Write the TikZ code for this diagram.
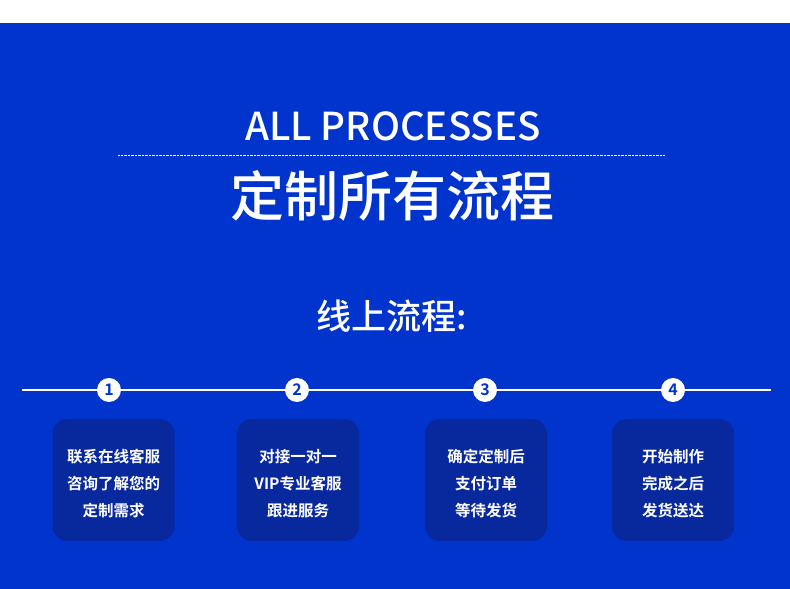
\documentclass[tikz,border=0pt]{standalone}
\usepackage{fontspec}
\setmainfont{Noto Sans CJK SC}[BoldFont={Noto Sans CJK SC Bold}]
\newfontfamily\medfont{Noto Sans CJK SC Medium}
\usetikzlibrary{positioning}
\definecolor{bgblue}{RGB}{0,52,204}
\definecolor{boxblue}{RGB}{8,40,158}

\begin{document}
\begin{tikzpicture}[x=1pt, y=1pt,
    numdot/.style={circle, fill=white, text=bgblue, inner sep=0pt, minimum size=24pt, font=\bfseries\fontsize{16}{16}\selectfont},
    card/.style={fill=boxblue, rounded corners=15pt, minimum width=122pt, minimum height=122pt, inner sep=0pt},
    cardtext/.style={text=white, align=center, font=\bfseries\fontsize{15.5}{27}\selectfont}]
  % page and background
  \fill[white] (0,0) rectangle (790,589);
  \fill[bgblue] (0,0) rectangle (790,566);
  \useasboundingbox (0,0) rectangle (790,589);

  % titles
  \node[text=white, font=\medfont\fontsize{38.5}{38.5}\selectfont] (eng) at (393,463) {ALL PROCESSES};
  \coordinate (dl) at (118,434);
  \coordinate (dr) at (665,434);
  \draw[white, line width=0.6pt, dash pattern=on 0.7pt off 0.7pt] (dl) -- (dr);
  \node[text=white, font=\medfont\fontsize{54}{54}\selectfont] (cn) at (392,393) {定制所有流程};
  \node[text=white, font=\medfont\fontsize{35}{35}\selectfont] (sub) at (392,273) {线上流程:};

  % timeline
  \coordinate (tl) at (22,199);
  \coordinate (tr) at (771,199);
  \draw[white, line width=1.6pt] (tl) -- (tr);

  % steps
  \foreach \i/\x/\bx/\txt in {1/109/113.5/{联系在线客服\\咨询了解您的\\定制需求},
                              2/297/298/{对接一对一\\VIP专业客服\\跟进服务},
                              3/485/486/{确定定制后\\支付订单\\等待发货},
                              4/673/673/{开始制作\\完成之后\\发货送达}} {
    \node[numdot] (n\i) at (\x,199) {\i};
    \node[card] (box\i) at (\bx,109) {};
    \node[cardtext] (lbl\i) at (box\i.center) [yshift=-4pt] {\txt};
  }
\end{tikzpicture}
\end{document}
